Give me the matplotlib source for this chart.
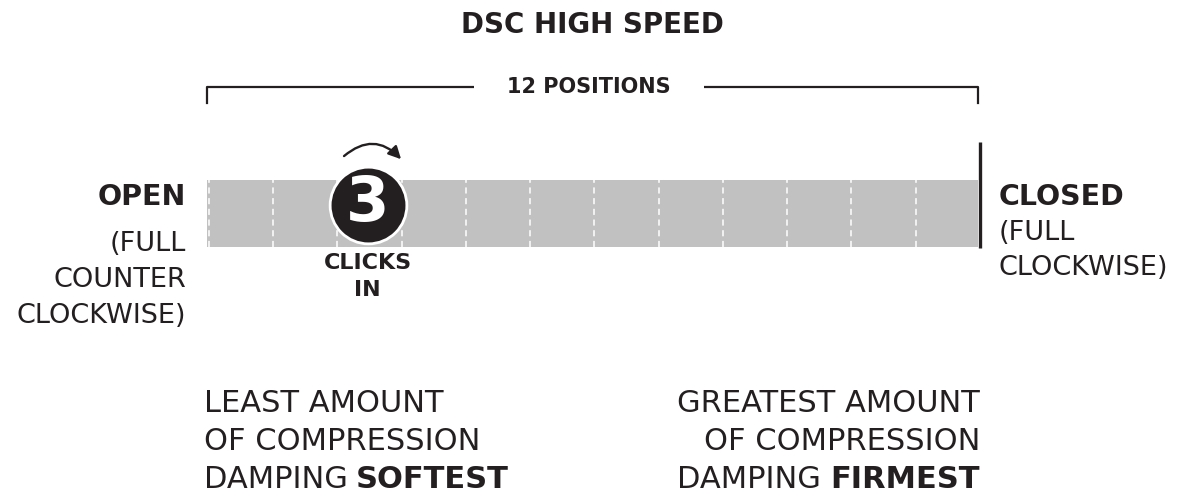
import numpy as np
import matplotlib
matplotlib.use("Agg")
import matplotlib.pyplot as plt

plt.rcParams['font.family'] = ['DejaVu Sans']

# data
title = "DSC HIGH SPEED"
n_positions = 12
clicks_in = 3
positions = np.arange(1, n_positions + 1)
open_label = "OPEN"
open_note = ["(FULL", "COUNTER", "CLOCKWISE)"]
closed_label = "CLOSED"
closed_note = ["(FULL", "CLOCKWISE)"]
soft_lines = ["LEAST AMOUNT", "OF COMPRESSION", "DAMPING"]
firm_lines = ["GREATEST AMOUNT", "OF COMPRESSION", "DAMPING"]

dark = '#231f20'
gray = '#c1c1c1'

fig = plt.figure(figsize=(11.79, 4.96), dpi=100)

# overlay axes in pixel coords for the labels
ax_txt = fig.add_axes([0, 0, 1, 1])
ax_txt.set_xlim(0, 1179)
ax_txt.set_ylim(496, 0)
ax_txt.axis('off')

# axes holding the position bar
ax = fig.add_axes([207 / 1179, (496 - 247) / 496, (978 - 207) / 1179, 67 / 496])
ax.set_xlim(0, n_positions)
ax.set_ylim(0, 1)
ax.axis('off')

ax.bar(positions - 1, 1, width=1, align='edge', color=gray, linewidth=0)
ax.vlines(np.arange(0, n_positions + 1) + 0.03, 0, 1, colors='white',
          linestyles=(0, (4, 3)), linewidth=1.1)
# closed stop
ax.plot([n_positions + 0.03, n_positions + 0.03], [-0.02, 1.57], color=dark, lw=2.4,
        clip_on=False, solid_capstyle='butt')

# bracket with "12 POSITIONS"
ax.plot([0, 0, n_positions, n_positions], [2.15, 2.39, 2.39, 2.15], color=dark, lw=1.6,
        clip_on=False)
ax.text(n_positions / 2 - 0.05, 2.39, f"{n_positions} POSITIONS", ha='center', va='center',
        fontsize=15, fontweight='bold', color=dark,
        bbox=dict(boxstyle='square,pad=1.6', fc='white', ec='none'))

# clicks marker
cx = clicks_in - 0.5
ax.scatter([cx], [0.63], s=3050, c=dark, edgecolors='white', linewidths=2,
           clip_on=False, zorder=5)
ax.text(cx, 0.64, str(clicks_in), ha='center', va='center', color='white',
        fontsize=45, fontweight='bold', zorder=6)
ax.annotate("", xy=(cx + 0.55, 1.28), xytext=(cx - 0.40, 1.33),
            arrowprops=dict(arrowstyle='-|>,head_length=0.75,head_width=0.38',
                            connectionstyle='arc3,rad=-0.5', color=dark, lw=1.7),
            annotation_clip=False)
ax.text(cx, -0.24, "CLICKS", ha='center', va='center', fontsize=16,
        fontweight='bold', color=dark)
ax.text(cx, -0.64, "IN", ha='center', va='center', fontsize=16,
        fontweight='bold', color=dark)

# labels
ax_txt.text(592, 25, title, ha='center', va='center', fontsize=20, fontweight='bold',
            color=dark)
ax_txt.text(186, 197, open_label, ha='right', va='center', fontsize=20.5, fontweight='bold',
            color=dark)
for i, line in enumerate(open_note):
    ax_txt.text(186, 244 + 36 * i, line, ha='right', va='center', fontsize=19.5, color=dark)
ax_txt.text(999, 197, closed_label, ha='left', va='center', fontsize=20.5, fontweight='bold',
            color=dark)
for i, line in enumerate(closed_note):
    ax_txt.text(999, 233 + 35 * i, line, ha='left', va='center', fontsize=19.5, color=dark)

# bottom descriptions
fs = 22
for i, line in enumerate(soft_lines):
    t1 = ax_txt.text(204, 403 + 38 * i, line, ha='left', va='center', fontsize=fs,
                     color=dark)
ax_txt.annotate("SOFTEST", xy=(1, 0.5), xycoords=t1, xytext=(6, 0),
                textcoords='offset points', ha='left', va='center', fontweight='bold',
                fontsize=fs, color=dark)
for i, line in enumerate(firm_lines[:2]):
    ax_txt.text(980, 403 + 38 * i, line, ha='right', va='center', fontsize=fs, color=dark)
t2 = ax_txt.text(980, 479, "FIRMEST", ha='right', va='center', fontweight='bold',
                 fontsize=fs, color=dark)
ax_txt.annotate(firm_lines[2], xy=(0, 0.5), xycoords=t2, xytext=(-7, 0),
                textcoords='offset points', ha='right', va='center', fontsize=fs,
                color=dark)

fig.savefig("out.png", dpi=100)
